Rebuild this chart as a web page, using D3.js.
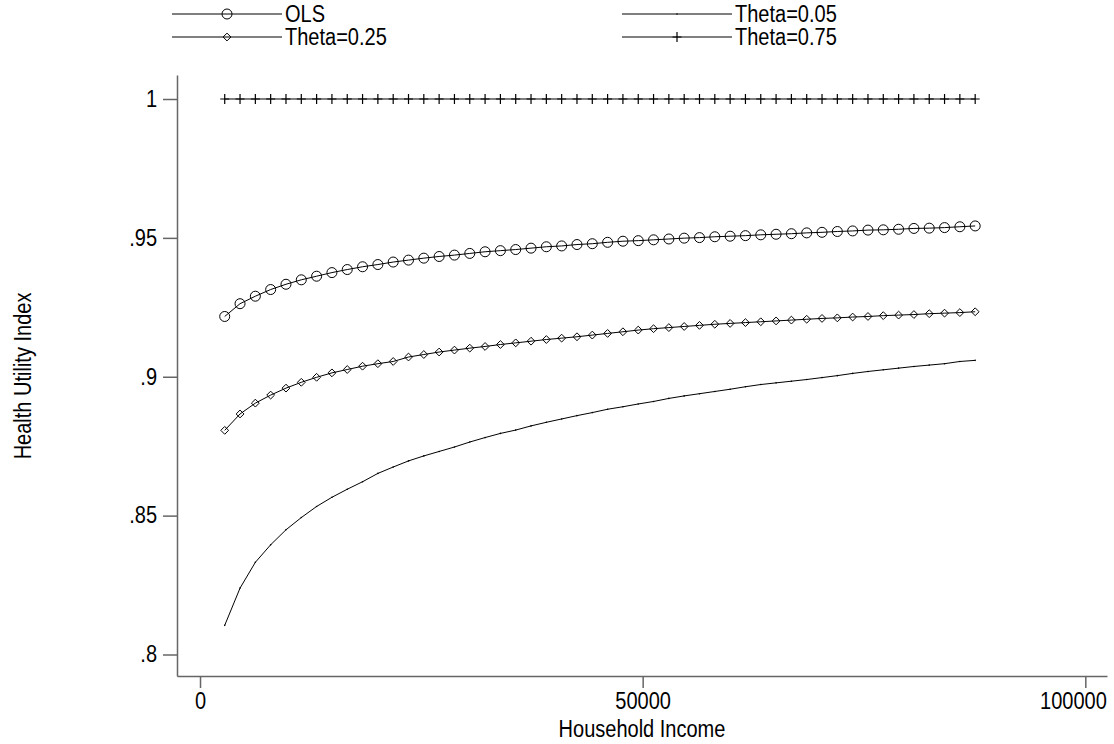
<!DOCTYPE html>
<html>
<head>
<meta charset="utf-8">
<script src="https://cdn.jsdelivr.net/npm/d3@7"></script>
<style>
  body { margin: 0; background: #fff; }
  text { font-family: "Liberation Sans", Arial, sans-serif; fill: #000; }
</style>
</head>
<body>
<svg id="chart" width="1114" height="744"></svg>
<script>
// data
const income = [2790, 4520, 6250, 7980, 9710, 11440, 13170, 14900, 16630, 18360,
  20090, 21820, 23550, 25280, 27010, 28740, 30470, 32200, 33930, 35660,
  37390, 39120, 40850, 42580, 44310, 46040, 47770, 49500, 51230, 52960,
  54690, 56420, 58150, 59880, 61610, 63340, 65070, 66800, 68530, 70260,
  71990, 73720, 75450, 77180, 78910, 80640, 82370, 84100, 85830, 87560]

const ols = [0.9217, 0.9263, 0.9290, 0.9314, 0.9333, 0.9349, 0.9362, 0.9375, 0.9386, 0.9396,
  0.9404, 0.9413, 0.9420, 0.9427, 0.9433, 0.9438, 0.9444, 0.9450, 0.9454, 0.9458,
  0.9463, 0.9468, 0.9471, 0.9476, 0.9479, 0.9484, 0.9488, 0.9490, 0.9493, 0.9496,
  0.9499, 0.9501, 0.9504, 0.9506, 0.9508, 0.9511, 0.9513, 0.9515, 0.9518, 0.9520,
  0.9523, 0.9525, 0.9528, 0.9529, 0.9531, 0.9534, 0.9535, 0.9537, 0.9540, 0.9543]

const theta05 = [0.8105, 0.8239, 0.8332, 0.8395, 0.8449, 0.8493, 0.8533, 0.8566, 0.8595, 0.8622,
  0.8652, 0.8675, 0.8697, 0.8715, 0.8731, 0.8747, 0.8765, 0.8781, 0.8796, 0.8808,
  0.8823, 0.8836, 0.8848, 0.8860, 0.8871, 0.8883, 0.8892, 0.8902, 0.8911, 0.8922,
  0.8931, 0.8939, 0.8947, 0.8955, 0.8964, 0.8972, 0.8978, 0.8984, 0.8990, 0.8997,
  0.9004, 0.9012, 0.9019, 0.9025, 0.9031, 0.9037, 0.9042, 0.9047, 0.9055, 0.9059]

const theta25 = [0.8807, 0.8866, 0.8905, 0.8934, 0.8959, 0.8980, 0.8998, 0.9014, 0.9026, 0.9038,
  0.9047, 0.9055, 0.9071, 0.9080, 0.9089, 0.9096, 0.9103, 0.9109, 0.9116, 0.9122,
  0.9128, 0.9134, 0.9139, 0.9144, 0.9150, 0.9156, 0.9162, 0.9168, 0.9173, 0.9177,
  0.9181, 0.9185, 0.9189, 0.9192, 0.9195, 0.9198, 0.9201, 0.9204, 0.9207, 0.9210,
  0.9212, 0.9215, 0.9217, 0.9220, 0.9222, 0.9224, 0.9227, 0.9229, 0.9231, 0.9234]

const theta75 = [1, 1, 1, 1, 1, 1, 1, 1, 1, 1,
  1, 1, 1, 1, 1, 1, 1, 1, 1, 1,
  1, 1, 1, 1, 1, 1, 1, 1, 1, 1,
  1, 1, 1, 1, 1, 1, 1, 1, 1, 1,
  1, 1, 1, 1, 1, 1, 1, 1, 1, 1]

const xTicks = [0, 50000, 100000]
const yTicks = [0.8, 0.85, 0.9, 0.95, 1]
const yTickLabels = [".8", ".85", ".9", ".95", "1"]

const series = [
  { name: "OLS", values: ols, marker: "circle" },
  { name: "Theta=0.05", values: theta05, marker: "dot" },
  { name: "Theta=0.25", values: theta25, marker: "diamond" },
  { name: "Theta=0.75", values: theta75, marker: "plus" }
]

// the text in the picture is a bit narrow, so squeeze it sideways
const squeeze = "scale(0.87,1)"
const fontSize = 23

const svg = d3.select("#chart")

const xScale = d3.scaleLinear().domain([-2600, 102450]).range([177, 1107])
const yScale = d3.scaleLinear().domain([0.79226, 1.00864]).range([676, 75])

// markers
function drawMarker(g, type, x, y) {
  if (type === "circle") {
    g.append("circle").attr("cx", x).attr("cy", y).attr("r", 5)
      .attr("fill", "none").attr("stroke", "#000").attr("stroke-width", 1)
  } else if (type === "diamond") {
    g.append("path").attr("d", `M${x},${y - 3.9}L${x + 3.9},${y}L${x},${y + 3.9}L${x - 3.9},${y}Z`)
      .attr("fill", "none").attr("stroke", "#000").attr("stroke-width", 1)
  } else if (type === "plus") {
    g.append("path").attr("d", `M${x - 4.5},${y}H${x + 4.5}M${x},${y - 5}V${y + 5}`)
      .attr("stroke", "#000").attr("stroke-width", 1.2)
  } else {
    g.append("circle").attr("cx", x).attr("cy", y).attr("r", 0.8).attr("fill", "#000")
  }
}

// lines
const line = d3.line()
  .x((d, i) => xScale(income[i]))
  .y(d => yScale(d))

const plot = svg.append("g")
series.forEach(s => {
  plot.append("path")
    .datum(s.values)
    .attr("d", line)
    .attr("fill", "none")
    .attr("stroke", "#000")
    .attr("stroke-width", 1)
  const mg = plot.append("g")
  s.values.forEach((v, i) => drawMarker(mg, s.marker, xScale(income[i]), yScale(v)))
})

// axes
const axisLeft = d3.axisLeft(yScale)
  .tickValues(yTicks)
  .tickFormat((d, i) => yTickLabels[i])
  .tickSize(14)
  .tickSizeOuter(0)

const axisBottom = d3.axisBottom(xScale)
  .tickValues(xTicks)
  .tickFormat(d => d)
  .tickSize(12)
  .tickPadding(5)
  .tickSizeOuter(0)

const gy = svg.append("g").attr("transform", "translate(177,0)").call(axisLeft)
const gx = svg.append("g").attr("transform", "translate(0,676)").call(axisBottom)

;[gx, gy].forEach(g => {
  g.selectAll("path, line").attr("stroke", "#666").attr("stroke-width", 1.5)
  g.selectAll("text")
    .attr("font-size", fontSize)
    .attr("font-family", null)
    .attr("fill", "#000")
    .attr("transform", squeeze)
})
// y labels end at x = 157
gy.selectAll("text").attr("x", -20 / 0.87)
// the last x label sits flush with the right end of the axis
gx.selectAll("text").filter(d => d === 100000)
  .attr("text-anchor", "end")
  .attr("x", 21 / 0.87)

// axis titles
svg.append("text")
  .attr("transform", "translate(642,737) " + squeeze)
  .attr("text-anchor", "middle")
  .attr("font-size", fontSize)
  .text("Household Income")

svg.append("text")
  .attr("transform", "translate(31,376) rotate(-90) " + squeeze)
  .attr("text-anchor", "middle")
  .attr("font-size", fontSize)
  .text("Health Utility Index")

// legend, two columns
const legendPos = [
  { x: 172, y: 14 }, { x: 622, y: 14 },
  { x: 172, y: 37 }, { x: 622, y: 37 }
]
series.forEach((s, i) => {
  const p = legendPos[i]
  const lg = svg.append("g")
  lg.append("line")
    .attr("x1", p.x).attr("x2", p.x + 110)
    .attr("y1", p.y).attr("y2", p.y)
    .attr("stroke", "#000").attr("stroke-width", 1)
  drawMarker(lg, s.marker, p.x + 55, p.y)
  lg.append("text")
    .attr("transform", `translate(${p.x + 113},${p.y}) ${squeeze}`)
    .attr("dy", "0.36em")
    .attr("font-size", fontSize)
    .text(s.name)
})
</script>
</body>
</html>
